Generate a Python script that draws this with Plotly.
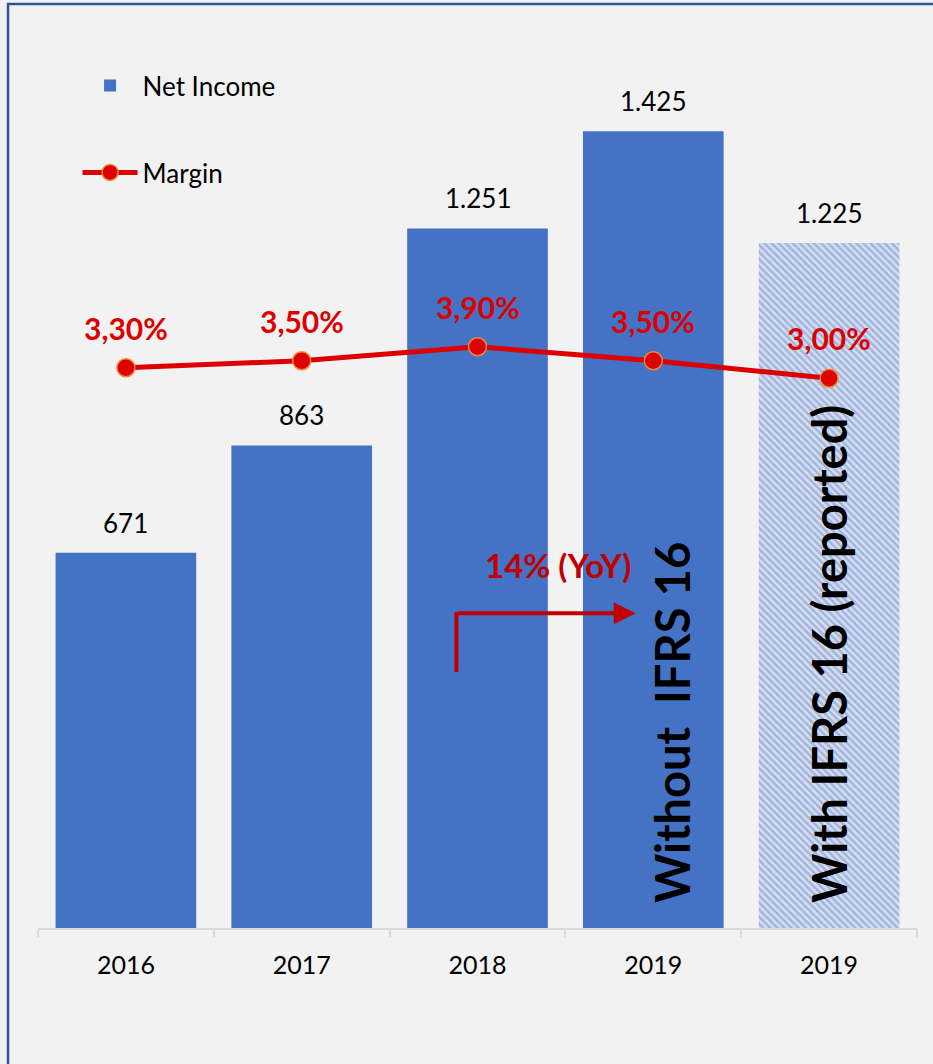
import plotly.graph_objects as go

# Net income by year (thousands separator shown as ".")
categories = ["2016", "2017", "2018", "2019", "2019"]
net_income = [671, 863, 1251, 1425, 1225]
# Net margin in percent
margin = [3.30, 3.50, 3.90, 3.50, 3.00]
bar_notes = ["", "", "", "Without  IFRS 16", "With IFRS 16 (reported)"]
growth_label = "14% (YoY)"

BLUE = "#4472C4"
RED = "#DD0000"
DARK_RED = "#C00000"
BG = "#F2F2F2"
FONT = "Lato"
HATCH_BG = "#D6DEF0"
HATCH_FG = "#A2B5DE"

x_pos = list(range(len(categories)))
# the last bar is the reported figure (with IFRS 16), drawn hatched
n_solid = len(categories) - 1

fig = go.Figure()

fig.add_trace(go.Bar(
    x=x_pos[:n_solid], y=net_income[:n_solid], name="Net Income", width=0.8,
    legendgroup="income",
    marker=dict(color=BLUE, line=dict(width=0)),
    hoverinfo="skip",
))
fig.add_trace(go.Bar(
    x=x_pos[n_solid:], y=net_income[n_solid:], name="Net Income (reported)",
    width=0.8, showlegend=False, legendgroup="income",
    marker=dict(
        color=HATCH_BG, line=dict(width=0),
        pattern=dict(shape="\\", fgcolor=HATCH_FG, fgopacity=1,
                     size=5, solidity=0.5, fillmode="overlay"),
    ),
    hoverinfo="skip",
))

fig.add_trace(go.Scatter(
    x=x_pos, y=margin, name="Margin", yaxis="y2", mode="lines+markers",
    legendgroup="margin",
    line=dict(color=RED, width=5),
    marker=dict(size=18, color=RED, line=dict(color="#F08A30", width=1.5)),
    hoverinfo="skip",
))

# Boundary ticks between categories
fig.add_trace(go.Scatter(x=[None], y=[None], xaxis="x2", showlegend=False, hoverinfo="skip"))

annotations = []
for i, v in enumerate(net_income):
    annotations.append(dict(
        x=i, y=v, xref="x", yref="y", text=f"{v:,}".replace(",", "."),
        showarrow=False, yanchor="bottom", yshift=12,
        font=dict(family=FONT, size=26, color="#000000"),
    ))
for i, m in enumerate(margin):
    annotations.append(dict(
        x=i, y=m, xref="x", yref="y2", text=f"{m:.2f}%".replace(".", ","),
        showarrow=False, yanchor="middle", yshift=40,
        font=dict(family=FONT, size=30, color=RED, weight="bold"),
    ))
for i, note in enumerate(bar_notes):
    if note:
        annotations.append(dict(
            x=i + (0.11 if i == 3 else 0.0), y=0.026, xref="x", yref="paper",
            text=f"<b>{note}</b>", textangle=-90, showarrow=False,
            xanchor="center", yanchor="bottom",
            font=dict(family=FONT, size=47, color="#000000"),
        ))

# Year-over-year growth callout (2018 -> 2019)
annotations.append(dict(
    x=2.46, y=650, xref="x", yref="y", text=f"<b>{growth_label}</b>",
    showarrow=False, xanchor="center", yanchor="middle",
    font=dict(family=FONT, size=33, color=DARK_RED),
))
annotations.append(dict(
    x=2.9, y=563, ax=1.88, ay=563, xref="x", yref="y", axref="x", ayref="y",
    text="", showarrow=True, arrowhead=2, arrowsize=1.1, arrowwidth=4,
    arrowcolor=DARK_RED,
))

shapes = [
    dict(type="line", xref="x", yref="y", x0=1.88, x1=1.88, y0=458, y1=565,
         line=dict(color=DARK_RED, width=4)),
    # chart frame
    dict(type="rect", xref="paper", yref="paper", x0=-0.0341, x1=1.2,
         y0=-0.4, y1=1.0405, line=dict(color="#2F5597", width=2.5), layer="below"),
]

fig.update_layout(
    width=933, height=1064,
    margin=dict(l=38, r=16, t=40, b=136),
    paper_bgcolor=BG, plot_bgcolor=BG,
    separators=",.",
    font=dict(family=FONT, size=26, color="#000000"),
    barmode="overlay",
    showlegend=True,
    legend=dict(
        x=0.045, y=0.975, xanchor="left", yanchor="top",
        bgcolor="rgba(0,0,0,0)", font=dict(family=FONT, size=26, color="#000000"),
        itemwidth=55, tracegroupgap=50, traceorder="grouped",
    ),
    xaxis=dict(
        range=[-0.5, 4.5], tickvals=x_pos, ticktext=categories,
        showline=True, linecolor="#D9D9D9", linewidth=2, ticks="",
        showgrid=False, zeroline=False, ticklabelstandoff=14,
        tickfont=dict(family=FONT, size=25, color="#000000"),
    ),
    xaxis2=dict(
        overlaying="x", anchor="y", side="bottom", range=[-0.5, 4.5],
        tickvals=[i - 0.5 for i in range(len(categories) + 1)],
        ticks="outside", ticklen=8, tickwidth=2, tickcolor="#D9D9D9",
        showticklabels=False, showgrid=False, zeroline=False, showline=False,
    ),
    yaxis=dict(range=[0, 1588], visible=False, showgrid=False),
    yaxis2=dict(range=[-12.7, 12.66], overlaying="y", visible=False, showgrid=False),
    annotations=annotations,
    shapes=shapes,
)

fig.write_html("out.html")
